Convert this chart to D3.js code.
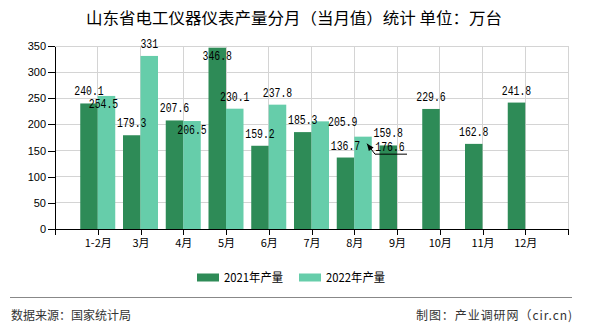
<!DOCTYPE html>
<html>
<head>
<meta charset="utf-8">
<script src="https://cdn.jsdelivr.net/npm/d3@7/dist/d3.min.js"></script>
<style>
  html, body { margin: 0; padding: 0; background: #fff; }
  svg { display: block; }
</style>
</head>
<body>
<svg id="chart" width="590" height="330"></svg>
<script>
// ---- data ----
const categories = ["1-2月", "3月", "4月", "5月", "6月", "7月", "8月", "9月", "10月", "11月", "12月"];
const values2021 = [240.1, 179.3, 207.6, 346.8, 159.2, 185.3, 136.7, 159.8, 229.6, 162.8, 241.8];
const values2022 = [254.5, 331, 206.5, 230.1, 237.8, 205.9, 176.6, null, null, null, null];
const seriesNames = ["2021年产量", "2022年产量"];
const yTicks = [0, 50, 100, 150, 200, 250, 300, 350];

const title = "山东省电工仪器仪表产量分月（当月值）统计 单位：万台";
const sourceText = "数据来源：国家统计局";
const creditText = "制图：产业调研网（cir.cn)";

// ---- layout ----
const colors = ["#2e8b57", "#66cdaa"];
const svg = d3.select("#chart");
const plotL = 55, plotR = 568, plotT = 46, plotB = 229;
const barW = 17.5;
const cjk = "'Noto Sans CJK SC', 'Liberation Sans', sans-serif";
const numFont = "'Liberation Sans', 'DejaVu Sans', sans-serif";
const monoFont = "'Liberation Mono', 'DejaVu Sans Mono', monospace";

const x = d3.scaleLinear().domain([0, categories.length + 1]).range([plotL, plotR]);
const y = d3.scaleLinear().domain([0, 350]).range([plotB, plotT]);

// title
svg.append("text")
  .attr("x", 294).attr("y", 24)
  .attr("text-anchor", "middle")
  .attr("font-family", cjk).attr("font-size", 15.5)
  .attr("textLength", 416).attr("lengthAdjust", "spacingAndGlyphs")
  .attr("fill", "#000")
  .text(title);

// grid
const grid = svg.append("g");
grid.selectAll("line.h").data(yTicks).enter().append("line")
  .attr("x1", plotL).attr("x2", plotR)
  .attr("y1", d => y(d)).attr("y2", d => y(d))
  .attr("stroke", "#d4d4d4").attr("stroke-width", 1).attr("shape-rendering", "crispEdges");
grid.selectAll("line.v").data(d3.range(0, categories.length + 2)).enter().append("line")
  .attr("x1", d => x(d)).attr("x2", d => x(d))
  .attr("y1", plotT).attr("y2", plotB)
  .attr("stroke", "#d4d4d4").attr("stroke-width", 1).attr("shape-rendering", "crispEdges");

// bars
const bars = svg.append("g");
categories.forEach((c, i) => {
  const cx = x(i + 1);
  if (values2021[i] != null) {
    bars.append("rect")
      .attr("x", cx - barW).attr("y", y(values2021[i]))
      .attr("width", barW).attr("height", y(0) - y(values2021[i]))
      .attr("fill", colors[0]);
  }
  if (values2022[i] != null) {
    bars.append("rect")
      .attr("x", cx).attr("y", y(values2022[i]))
      .attr("width", barW).attr("height", y(0) - y(values2022[i]))
      .attr("fill", colors[1]);
  }
});

// axes
const yAxis = d3.axisLeft(y).tickValues(yTicks).tickSize(7).tickPadding(2).tickSizeOuter(0);
const gy = svg.append("g").attr("transform", `translate(${plotL},0)`).call(yAxis);
gy.selectAll("text").attr("font-family", numFont).attr("font-size", 11).attr("fill", "#000");
gy.selectAll("line, path").attr("stroke", "#000").attr("shape-rendering", "crispEdges");

const xAxis = d3.axisBottom(x)
  .tickValues(d3.range(0, categories.length + 2))
  .tickFormat(d => (d >= 1 && d <= categories.length) ? categories[d - 1] : "")
  .tickSize(6).tickPadding(4).tickSizeOuter(0);
const gx = svg.append("g").attr("transform", `translate(0,${plotB})`).call(xAxis);
gx.selectAll("text").attr("font-family", cjk).attr("font-size", 11).attr("fill", "#000");
gx.selectAll("line, path").attr("stroke", "#000").attr("shape-rendering", "crispEdges");

// data labels
// displaced labels (to avoid overlap), offsets relative to default position
const labelShift = {
  "1-0": [-3, 20.5],
  "1-2": [0, 20.5],
  "0-3": [0, 20.5],
  "1-5": [22.5, 12.2],
  "1-6": [27, 22.5]
};
const labels = svg.append("g");
[values2021, values2022].forEach((vals, s) => {
  vals.forEach((v, i) => {
    if (v == null) return;
    const bx = s === 0 ? x(i + 1) - barW / 2 : x(i + 1) + barW / 2;
    const sh = labelShift[s + "-" + i] || [0, 0];
    const cx = bx + sh[0];
    const cy = y(v) - 12.5 + sh[1];
    const str = String(v);
    labels.append("text")
      .attr("x", cx).attr("y", cy + 4.5)
      .attr("text-anchor", "middle")
      .attr("font-family", monoFont).attr("font-size", 12.5)
      .attr("textLength", str.length * 5.9).attr("lengthAdjust", "spacingAndGlyphs")
      .attr("fill", "#000")
      .text(str);
    if (s === 1 && i === 6) {
      // leader line with arrow pointing to the bar top
      const tipX = bx + 4, tipY = y(v) + 7;
      const elbowX = cx - 15, elbowY = cy + 7.5;
      labels.append("path")
        .attr("d", `M${cx + 17},${elbowY}L${elbowX},${elbowY}L${tipX},${tipY}`)
        .attr("fill", "none").attr("stroke", "#000").attr("stroke-width", 1);
      const ang = Math.atan2(tipY - elbowY, tipX - elbowX);
      const L = 7, W = 3;
      const p1 = [tipX - L * Math.cos(ang) + W * Math.sin(ang), tipY - L * Math.sin(ang) - W * Math.cos(ang)];
      const p2 = [tipX - L * Math.cos(ang) - W * Math.sin(ang), tipY - L * Math.sin(ang) + W * Math.cos(ang)];
      labels.append("path")
        .attr("d", `M${tipX},${tipY}L${p1[0]},${p1[1]}L${p2[0]},${p2[1]}Z`)
        .attr("fill", "#000");
    }
  });
});

// legend
const legendItems = [{ x: 197, name: seriesNames[0], c: colors[0] }, { x: 299, name: seriesNames[1], c: colors[1] }];
const lg = svg.append("g");
legendItems.forEach(it => {
  lg.append("rect").attr("x", it.x).attr("y", 273.5).attr("width", 22).attr("height", 8).attr("fill", it.c);
  lg.append("text").attr("x", it.x + 27).attr("y", 282)
    .attr("font-family", cjk).attr("font-size", 12)
    .attr("textLength", 59).attr("lengthAdjust", "spacingAndGlyphs")
    .attr("fill", "#000").text(it.name);
});

// footer
svg.append("line").attr("x1", 10).attr("x2", 572).attr("y1", 297.5).attr("y2", 297.5)
  .attr("stroke", "#888").attr("stroke-width", 1);
svg.append("text").attr("x", 11).attr("y", 320)
  .attr("font-family", cjk).attr("font-size", 12)
  .attr("textLength", 120).attr("lengthAdjust", "spacingAndGlyphs")
  .attr("fill", "#333").text(sourceText);
svg.append("text").attr("x", 416).attr("y", 320)
  .attr("font-family", cjk).attr("font-size", 12)
  .attr("textLength", 156).attr("lengthAdjust", "spacing")
  .attr("fill", "#333").text(creditText);
</script>
</body>
</html>
